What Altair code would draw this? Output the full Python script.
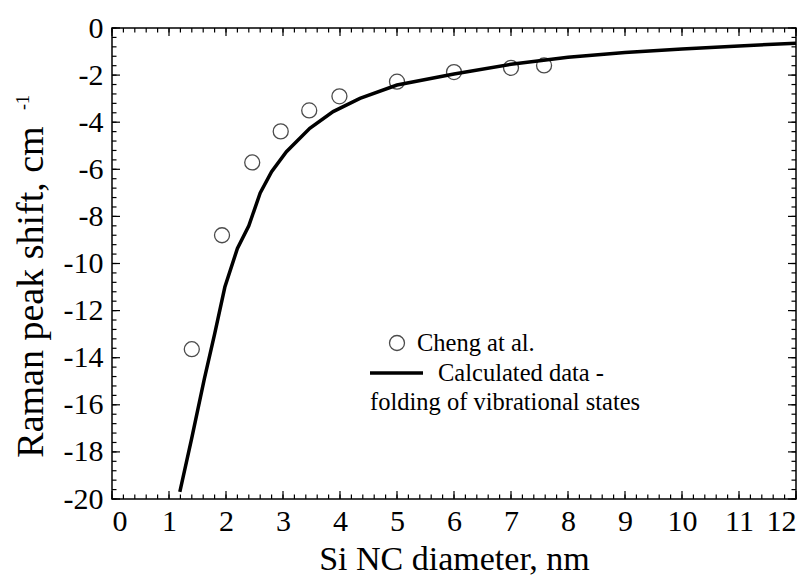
import altair as alt
import pandas as pd

# ---- data ----
exp_d = [1.40, 1.93, 2.46, 2.96, 3.46, 3.99, 5.00, 6.00, 7.00, 7.58]
exp_shift = [-13.64, -8.80, -5.71, -4.39, -3.50, -2.90, -2.28, -1.87, -1.69, -1.59]

calc_d = [1.19, 1.40, 1.62, 1.80, 1.98, 2.20, 2.40, 2.60, 2.80, 3.06, 3.47, 3.88, 4.35,
          5.00, 6.00, 7.00, 8.00, 9.00, 10.00, 11.00, 12.00]
calc_shift = [-19.70, -17.40, -14.90, -13.00, -11.00, -9.36, -8.40, -7.00, -6.10, -5.25,
              -4.26, -3.55, -2.99, -2.42, -1.95, -1.54, -1.24, -1.04, -0.89, -0.76, -0.65]

x_major = list(range(0, 13))
x_minor = [round(i * 0.2, 2) for i in range(0, 61)]
y_major = list(range(0, -21, -2))
y_minor = [round(-i * 0.4, 2) for i in range(0, 51)]

legend_exp = ["Cheng at al."]
legend_calc = ["Calculated data -", "folding of vibrational states"]
y_title = "Raman peak shift, cm"
y_title_sup = "-1"
x_title = "Si NC diameter, nm"

# ---- chart ----
W, H = 684, 471
FONT = "Liberation Serif"
xs = alt.Scale(domain=[0, 12], nice=False, zero=False)
ys = alt.Scale(domain=[-20, 0], nice=False, zero=False)

XAXIS = alt.Axis(values=x_major, ticks=False, domain=False, grid=False,
                 labelFont=FONT, labelFontSize=30, labelColor="black",
                 labelPadding=7, title=x_title, titleFont=FONT,
                 titleFontSize=34, titleFontWeight="normal",
                 titleColor="black", titlePadding=6)
YAXIS = alt.Axis(values=y_major, ticks=False, domain=False, grid=False,
                 labelFont=FONT, labelFontSize=30, labelColor="black",
                 labelPadding=9, title=None,
                 labelExpr="datum.value == 0 ? '0' : '-' + abs(datum.value)")

exp_df = pd.DataFrame({"d": exp_d, "s": exp_shift})
calc_df = pd.DataFrame({"d": calc_d, "s": calc_shift})

line = alt.Chart(calc_df).mark_line(color="black", strokeWidth=3.5).encode(
    x=alt.X("d:Q", scale=xs, axis=XAXIS),
    y=alt.Y("s:Q", scale=ys, axis=YAXIS),
)

pts = alt.Chart(exp_df).mark_point(shape="circle", filled=False, size=225,
                                   color="black", strokeWidth=1.3).encode(
    x=alt.X("d:Q", scale=xs, axis=XAXIS),
    y=alt.Y("s:Q", scale=ys, axis=YAXIS),
)


def xticks(vals, length, top):
    df = pd.DataFrame({"v": vals})
    if top:
        yy, yy2 = 0, length
    else:
        yy, yy2 = H, H - length
    return alt.Chart(df).mark_rule(color="black", strokeWidth=1.2).encode(
        x=alt.X("v:Q", scale=xs, axis=XAXIS),
        y=alt.value(yy), y2=alt.value(yy2))


def yticks(vals, length, right):
    df = pd.DataFrame({"v": vals})
    if right:
        xx, xx2 = W, W - length
    else:
        xx, xx2 = 0, length
    return alt.Chart(df).mark_rule(color="black", strokeWidth=1.2).encode(
        y=alt.Y("v:Q", scale=ys, axis=YAXIS),
        x=alt.value(xx), x2=alt.value(xx2))


ticks = [
    xticks(x_major, 8, False), xticks(x_minor, 4.5, False),
    xticks(x_major, 8, True), xticks(x_minor, 4.5, True),
    yticks(y_major, 8, False), yticks(y_minor, 4.5, False),
    yticks(y_major, 8, True), yticks(y_minor, 4.5, True),
]

# legend
leg_pt = alt.Chart(pd.DataFrame({"t": legend_exp})).mark_point(
    shape="circle", filled=False, size=225, color="black", strokeWidth=1.3
).encode(x=alt.value(285), y=alt.value(315))
leg_txt1 = alt.Chart(pd.DataFrame({"t": legend_exp})).mark_text(
    font=FONT, fontSize=24.5, align="left", baseline="alphabetic", color="black"
).encode(text="t:N", x=alt.value(305), y=alt.value(323))
leg_line = alt.Chart(pd.DataFrame({"t": legend_calc[:1]})).mark_rule(
    color="black", strokeWidth=3.5
).encode(x=alt.value(258), x2=alt.value(311), y=alt.value(345))
leg_txt2 = alt.Chart(pd.DataFrame({"t": legend_calc[:1]})).mark_text(
    font=FONT, fontSize=24.5, align="left", baseline="alphabetic", color="black"
).encode(text="t:N", x=alt.value(326), y=alt.value(353))
leg_txt3 = alt.Chart(pd.DataFrame({"t": legend_calc[1:]})).mark_text(
    font=FONT, fontSize=24.5, align="left", baseline="alphabetic", color="black"
).encode(text="t:N", x=alt.value(258), y=alt.value(382))

# y title with superscript
ytitle = alt.Chart(pd.DataFrame({"t": [y_title]})).mark_text(
    font=FONT, fontSize=38, angle=270, align="center", baseline="alphabetic",
    color="black"
).encode(text="t:N", x=alt.value(-69), y=alt.value(264))
ysup = alt.Chart(pd.DataFrame({"t": [y_title_sup]})).mark_text(
    font=FONT, fontSize=18, angle=270, align="left", baseline="alphabetic",
    color="black"
).encode(text="t:N", x=alt.value(-83), y=alt.value(82))

chart = alt.layer(
    line, pts, *ticks, leg_pt, leg_txt1, leg_line, leg_txt2, leg_txt3, ytitle, ysup
).properties(
    width=W, height=H,
    autosize=alt.AutoSizeParams(type="none"),
    padding={"left": 104, "top": 20, "right": 8, "bottom": 80},
    background="white",
).configure_view(stroke="black", strokeWidth=1.5)

chart.save("out.html", embed_options={"renderer": "svg", "actions": False})
